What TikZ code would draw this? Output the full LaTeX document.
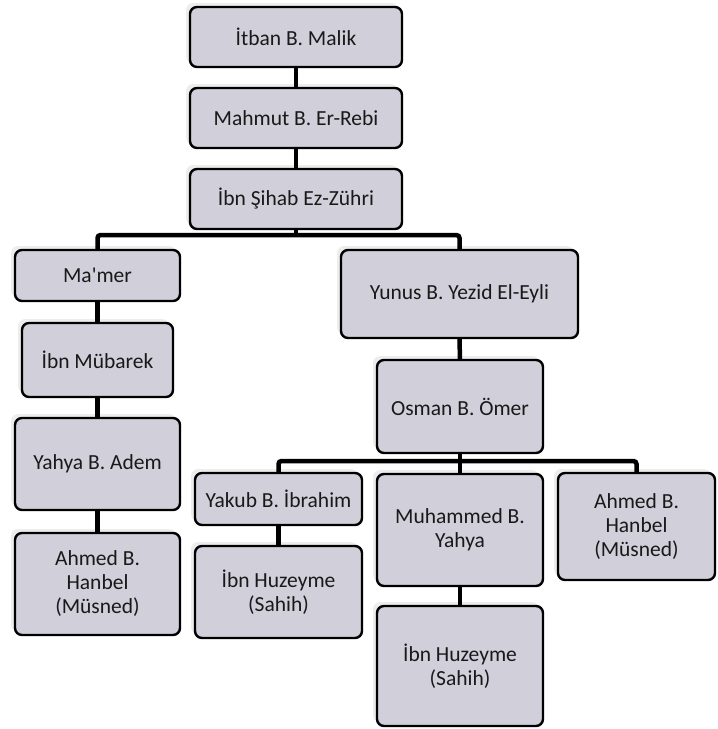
\documentclass[tikz,border=0pt]{standalone}
\usepackage{fontspec}
\setmainfont{Carlito}
\usetikzlibrary{shadows}
\definecolor{boxfill}{RGB}{208,207,218}

\begin{document}
\begin{tikzpicture}[x=1pt,y=-1pt,thick,
            link/.style={line width=4.5pt,rounded corners=3pt},
            main node/.style={rectangle,rounded corners=7pt,draw=black,line width=2.4pt,
              fill=boxfill,align=center,inner sep=2pt,text=black!90,
              font=\fontsize{21.5}{24}\selectfont,
              copy shadow={shadow xshift=-4pt,shadow yshift=4pt,draw=none,fill=black!7}}]

        \useasboundingbox (0,0) rectangle (718,729);

        % Define vertices
        \node[main node,minimum width=212pt,minimum height=60pt] (itban) at (296,37) {İtban B. Malik};
        \node[main node,minimum width=212pt,minimum height=60pt] (mahmut) at (296,118) {Mahmut B. Er-Rebi};
        \node[main node,minimum width=212pt,minimum height=60pt] (zuhri) at (296,199) {İbn Şihab Ez-Zühri};

        \node[main node,minimum width=165pt,minimum height=51pt] (mamer) at (97.5,275.5) {Ma\textquotesingle mer};
        \node[main node,minimum width=151pt,minimum height=74pt] (mubarek) at (97.5,360) {İbn Mübarek};
        \node[main node,minimum width=165pt,minimum height=92pt] (adem) at (97.5,464) {Yahya B. Adem};
        \node[main node,minimum width=165pt,minimum height=102pt] (hanbelA) at (97.5,584) {Ahmed B.\\Hanbel\\(Müsned)};

        \node[main node,minimum width=237pt,minimum height=88pt] (yunus) at (459.5,294) {Yunus B. Yezid El-Eyli};
        \node[main node,minimum width=166pt,minimum height=93pt] (osman) at (460,406.5) {Osman B. Ömer};

        \node[main node,minimum width=167pt,minimum height=52pt] (yakub) at (278.5,499) {Yakub B. İbrahim};
        \node[main node,minimum width=167pt,minimum height=92pt] (huzeymeA) at (278.5,592) {İbn Huzeyme\\(Sahih)};
        \node[main node,minimum width=166pt,minimum height=112pt] (muhammed) at (460,530) {Muhammed B.\\Yahya};
        \node[main node,minimum width=166pt,minimum height=120pt] (huzeymeB) at (460,666) {İbn Huzeyme\\(Sahih)};
        \node[main node,minimum width=157pt,minimum height=107pt] (hanbelB) at (636.5,526.5) {Ahmed B.\\Hanbel\\(Müsned)};

        \coordinate (bus1) at (296,235);
        \coordinate (bus2) at (460,461);

        % Draw edges
        \draw[link] (itban) -- (mahmut);
        \draw[link] (mahmut) -- (zuhri);
        \draw[link] (zuhri) -- (bus1);
        \draw[link] (mamer.north) |- (bus1) -| (yunus.north);
        \draw[link] (mamer) -- (mubarek);
        \draw[link] (mubarek) -- (adem);
        \draw[link] (adem) -- (hanbelA);
        \draw[link] (yunus) -- (osman);
        \draw[link] (osman) -- (bus2);
        \draw[link] (yakub.north) |- (bus2) -| (hanbelB.north);
        \draw[link] (bus2) -- (muhammed);
        \draw[link] (yakub) -- (huzeymeA);
        \draw[link] (muhammed) -- (huzeymeB);

        \end{tikzpicture}
\end{document}
